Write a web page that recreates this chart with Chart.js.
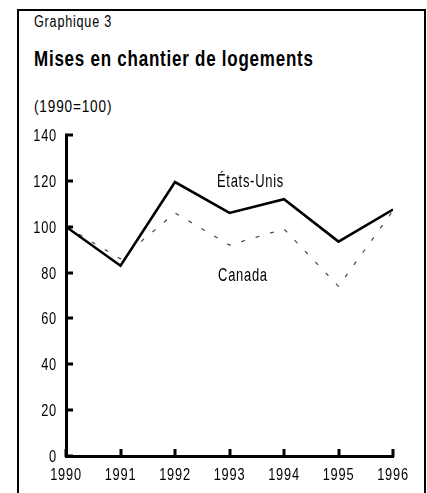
<!DOCTYPE html>
<html>
<head>
<meta charset="utf-8">
<script src="https://cdn.jsdelivr.net/npm/chart.js@4.4.1/dist/chart.umd.min.js"></script>
<style>
  body { margin: 0; background: #fff; font-family: 'Liberation Sans', Arial, sans-serif; }
  #wrap { position: relative; width: 427px; height: 493px; overflow: hidden; }
  #frame { position: absolute; left: 17px; top: 9px; width: 405px; height: 500px; border: 2px solid #000; }
  .txt { position: absolute; left: 34px; color: #000; letter-spacing: 1px; white-space: nowrap; transform-origin: 0 0; line-height: 1; }
  #kicker { top: 14px; font-size: 16px; }
  #title { top: 48px; font-size: 22px; font-weight: bold; }
  #unit { top: 99px; font-size: 16px; }
  canvas { position: absolute; left: 0; top: 0; }
</style>
</head>
<body>
<div id="wrap">
  <div id="frame"></div>
  <div class="txt" id="kicker" data-w="78">Graphique 3</div>
  <div class="txt" id="title" data-w="280">Mises en chantier de logements</div>
  <div class="txt" id="unit" data-w="78">(1990=100)</div>
  <canvas id="chart" width="427" height="493"></canvas>
</div>
<script>
const years = [1990, 1991, 1992, 1993, 1994, 1995, 1996];
const etatsUnis = [100, 83, 119.5, 106, 112, 93.5, 107.5];
const canada = [100, 86, 106, 92, 99, 74, 107];
const yTicks = [0, 20, 40, 60, 80, 100, 120, 140];

const FONT = "'Liberation Sans', Arial, sans-serif";

// squeeze the heading lines into a narrow face
document.querySelectorAll('.txt').forEach(el => {
    const w = +el.dataset.w;
    el.style.transform = 'scaleX(' + (w / el.scrollWidth) + ')';
});

// text drawn horizontally condensed
function narrowText(ctx, str, x, y, align, size, squeeze) {
    ctx.save();
    ctx.font = size + 'px ' + FONT;
    ctx.letterSpacing = '1px';
    ctx.fillStyle = '#000';
    ctx.textBaseline = 'alphabetic';
    const w = ctx.measureText(str).width * squeeze;
    let x0 = x;
    if (align === 'right') x0 = x - w;
    if (align === 'center') x0 = x - w / 2;
    ctx.translate(x0, y);
    ctx.scale(squeeze, 1);
    ctx.textAlign = 'left';
    ctx.fillText(str, 0, 0);
    ctx.restore();
}

// inward tick marks and the tick labels
const axisDecor = {
    id: 'axisDecor',
    afterDraw(chart) {
        const ctx = chart.ctx;
        const x = chart.scales.x, y = chart.scales.y;
        const left = chart.chartArea.left, bottom = chart.chartArea.bottom;
        ctx.save();
        ctx.setLineDash([]);
        ctx.fillStyle = '#000';
        yTicks.forEach(v => {
            const py = Math.round(y.getPixelForValue(v));
            ctx.fillRect(left - 1, py - 1.5, 8, 3);
        });
        years.forEach(v => {
            const px = Math.round(x.getPixelForValue(v));
            ctx.fillRect(px - 1.5, bottom - 7, 3, 8);
        });
        ctx.restore();

        yTicks.forEach(v => {
            narrowText(ctx, String(v), left - 9, y.getPixelForValue(v) + 6, 'right', 16, 0.8);
        });
        years.forEach(v => {
            narrowText(ctx, String(v), x.getPixelForValue(v), bottom + 24, 'center', 16, 0.8);
        });
    }
};

// series names written next to the lines
const seriesLabels = {
    id: 'seriesLabels',
    afterDatasetsDraw(chart) {
        const x = chart.scales.x, y = chart.scales.y;
        narrowText(chart.ctx, 'États-Unis', x.getPixelForValue(1992.77), y.getPixelForValue(117.3), 'left', 18, 0.72);
        narrowText(chart.ctx, 'Canada', x.getPixelForValue(1992.79), y.getPixelForValue(76.3), 'left', 18, 0.72);
    }
};

new Chart(document.getElementById('chart'), {
    type: 'line',
    data: {
        datasets: [
            {
                label: 'États-Unis',
                data: years.map((yr, i) => ({ x: yr, y: etatsUnis[i] })),
                borderColor: '#000',
                borderWidth: 2.6,
                pointRadius: 0,
                tension: 0
            },
            {
                label: 'Canada',
                data: years.map((yr, i) => ({ x: yr, y: canada[i] })),
                borderColor: '#444',
                borderWidth: 1.2,
                borderDash: [4, 11],
                pointRadius: 0,
                tension: 0
            }
        ]
    },
    options: {
        responsive: false,
        animation: false,
        layout: { padding: { top: 135, right: 34, left: 0, bottom: 0 } },
        plugins: { legend: { display: false }, tooltip: { enabled: false } },
        scales: {
            x: {
                type: 'linear',
                min: 1990,
                max: 1996,
                afterFit: s => { s.height = 37; },
                grid: { drawOnChartArea: false, drawTicks: false },
                border: { color: '#000', width: 3 },
                ticks: { display: false }
            },
            y: {
                min: 0,
                max: 140,
                afterFit: s => { s.width = 66; },
                grid: { drawOnChartArea: false, drawTicks: false },
                border: { color: '#000', width: 3 },
                ticks: { display: false }
            }
        }
    },
    plugins: [axisDecor, seriesLabels]
});
</script>
</body>
</html>
